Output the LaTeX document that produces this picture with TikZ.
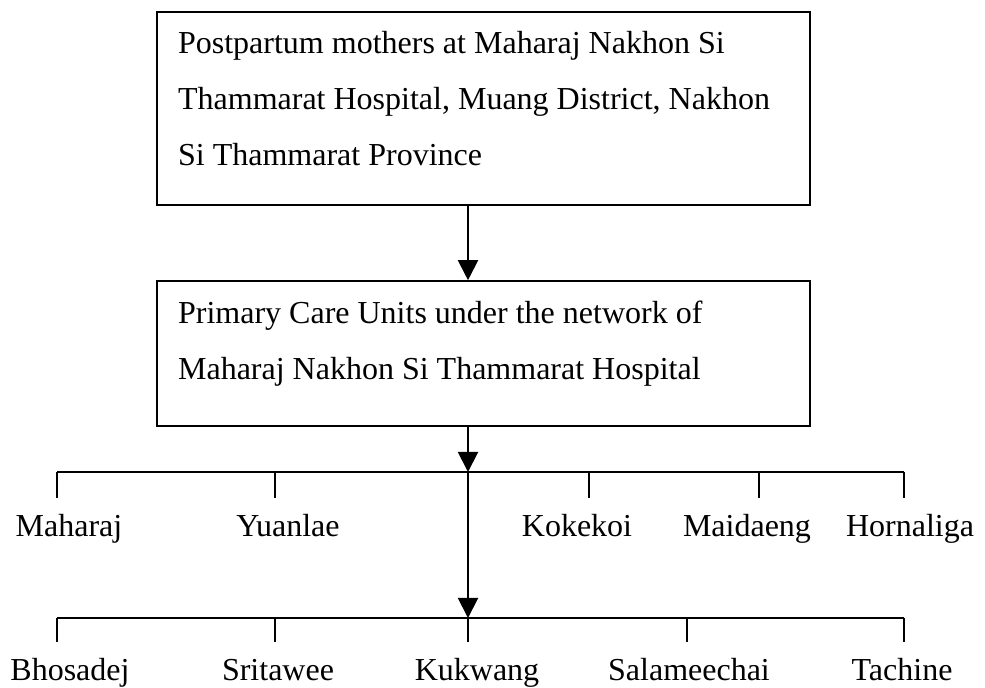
\documentclass[tikz,border=0pt]{standalone}
\usepackage{fontspec}
\setmainfont{Liberation Serif}
\usetikzlibrary{arrows.meta,positioning}
\tikzstyle{box} = [draw,line width=1.1pt,rectangle,inner xsep=10.5pt,inner ysep=9.6pt,font=\fontsize{16}{28}\selectfont]
\tikzstyle{unit} = [anchor=base,inner xsep=0pt,inner ysep=8.5pt,text height=11pt,text depth=3.5pt,font=\fontsize{16}{19}\selectfont]
\tikzstyle{link} = [-,line width=1pt]
\tikzstyle{flow} = [-{Triangle[length=10pt,width=10pt]},line width=1pt]
\def \bw {305.5pt}

\begin{document}
\begin{tikzpicture}[x=0.5pt,y=-0.5pt]
      \useasboundingbox (0,0) rectangle (985,688);
      \node[box,anchor=north west] (mothers) at (156,11) {\parbox[t][77.3pt][t]{\bw}{Postpartum mothers at Maharaj Nakhon Si\\Thammarat Hospital, Muang District, Nakhon\\Si Thammarat Province}};
      \node[box,below=37pt of mothers] (pcu) {\parbox[t][53.3pt][t]{\bw}{Primary Care Units under the network of\\Maharaj Nakhon Si Thammarat Hospital}};
      \coordinate (j1) at (468,472);
      \coordinate (j2) at (468,618);
      % first row of units
      \coordinate (a1) at (57,472);
      \coordinate (a2) at (275,472);
      \coordinate (a3) at (589,472);
      \coordinate (a4) at (759,472);
      \coordinate (a5) at (904,472);
      \node[unit] (maharaj) at (69,537) {Maharaj};
      \node[unit] (yuanlae) at (288,537) {Yuanlae};
      \node[unit] (kokekoi) at (577,537) {Kokekoi};
      \node[unit] (maidaeng) at (747,537) {Maidaeng};
      \node[unit] (hornaliga) at (910,537) {Hornaliga};
      % second row of units
      \coordinate (b1) at (57,618);
      \coordinate (b2) at (275,618);
      \coordinate (b4) at (687,618);
      \coordinate (b5) at (904,618);
      \node[unit] (bhosadej) at (70,681) {Bhosadej};
      \node[unit] (sritawee) at (278,681) {Sritawee};
      \node[unit] (kukwang) at (477,681) {Kukwang};
      \node[unit] (salameechai) at (689,681) {Salameechai};
      \node[unit] (tachine) at (902,681) {Tachine};
      \draw[flow] (mothers.south -| j1) -- (pcu.north -| j1);
      \draw[flow] (pcu.south -| j1) -- (j1);
      \draw[flow] (j1) -- (j2);
      \draw[link] (a1) -- (a5);
      \draw[link] (b1) -- (b5);
      \draw[link] (a1) -- (a1 |- maharaj.north);
      \draw[link] (a2) -- (a2 |- yuanlae.north);
      \draw[link] (a3) -- (a3 |- kokekoi.north);
      \draw[link] (a4) -- (a4 |- maidaeng.north);
      \draw[link] (a5) -- (a5 |- hornaliga.north);
      \draw[link] (b1) -- (b1 |- bhosadej.north);
      \draw[link] (b2) -- (b2 |- sritawee.north);
      \draw[link] (j2) -- (j2 |- kukwang.north);
      \draw[link] (b4) -- (b4 |- salameechai.north);
      \draw[link] (b5) -- (b5 |- tachine.north);
    \end{tikzpicture}
\end{document}
